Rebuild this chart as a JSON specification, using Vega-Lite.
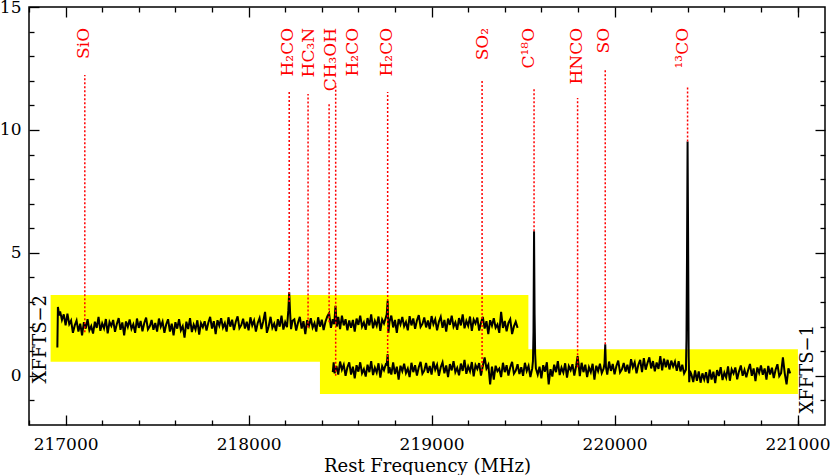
{
  "$schema": "https://vega.github.io/schema/vega-lite/v6.json",
  "width": 796,
  "height": 418,
  "autosize": "none",
  "padding": {"left": 29, "top": 7, "right": 5, "bottom": 50},
  "background": "white",
  "config": {
    "view": {"stroke": "black", "strokeWidth": 1.5},
    "axis": {"domain": false, "grid": false, "tickColor": "black", "tickWidth": 1.3, "labelFont": "DejaVu Serif", "labelFontSize": 17, "labelColor": "black", "titleFont": "DejaVu Serif", "titleFontSize": 18, "titleFontWeight": "normal", "titleColor": "black", "labelOverlap": false, "labelFlush": false, "zindex": 1}
  },
  "datasets": {
    "boxes": [
      {"x1": 216918, "x2": 219529, "y1": 0.57, "y2": 3.29},
      {"x1": 218390, "x2": 221002, "y1": -0.74, "y2": 1.08}
    ],
    "lines": [
      {"name": "SiO", "f": 217105, "b": 1.77, "top": 12.23, "lf": 217100},
      {"name": "H₂CO", "f": 218222, "b": 3.0, "top": 11.54, "lf": 218217},
      {"name": "HC₃N", "f": 218325, "b": 1.97, "top": 11.46, "lf": 218330},
      {"name": "CH₃OH", "f": 218440, "b": 2.18, "top": 11.09, "lf": 218449},
      {"name": "H₂CO", "f": 218476, "b": 0.0, "top": 11.9, "lf": 218572},
      {"name": "H₂CO", "f": 218760, "b": 0.6, "top": 11.54, "lf": 218758},
      {"name": "SO₂", "f": 219276, "b": 0.2, "top": 12.03, "lf": 219281},
      {"name": "C¹⁸O", "f": 219560, "b": 5.88, "top": 11.7, "lf": 219533},
      {"name": "HNCO", "f": 219798, "b": 0.35, "top": 11.3, "lf": 219797},
      {"name": "SO", "f": 219949, "b": 1.28, "top": 12.43, "lf": 219944},
      {"name": "¹³CO", "f": 220399, "b": 9.53, "top": 11.74, "lf": 220376}
    ],
    "bands": [
      {"name": "XFFTS−2", "f": 216863, "y": 3.29},
      {"name": "XFFTS−1", "f": 221059, "y": 2.07}
    ],
    "spec2": [
      {"f":216955,"t":1.15},{"f":216958,"t":2.80},{"f":216965,"t":2.45},{"f":216970,"t":2.62},{"f":216980,"t":2.27},{"f":216990,"t":2.50},
      {"f":217000,"t":2.05},{"f":217010,"t":2.53},{"f":217020,"t":2.10},{"f":217030,"t":2.25},{"f":217040,"t":1.75},{"f":217050,"t":2.05},
      {"f":217060,"t":2.25},{"f":217070,"t":1.80},{"f":217080,"t":2.12},{"f":217090,"t":1.65},{"f":217100,"t":2.18},{"f":217110,"t":1.92},
      {"f":217120,"t":2.30},{"f":217130,"t":1.85},{"f":217140,"t":2.02},{"f":217150,"t":1.72},{"f":217160,"t":2.20},{"f":217170,"t":1.95},
      {"f":217180,"t":2.40},{"f":217190,"t":1.83},{"f":217200,"t":2.13},{"f":217210,"t":1.93},{"f":217220,"t":2.31},{"f":217230,"t":1.73},
      {"f":217240,"t":2.19},{"f":217250,"t":2.03},{"f":217260,"t":2.27},{"f":217270,"t":1.79},{"f":217280,"t":2.11},{"f":217290,"t":2.35},
      {"f":217300,"t":1.87},{"f":217310,"t":2.17},{"f":217320,"t":1.65},{"f":217330,"t":2.21},{"f":217340,"t":1.99},{"f":217350,"t":2.29},
      {"f":217360,"t":1.91},{"f":217370,"t":2.09},{"f":217380,"t":1.75},{"f":217390,"t":2.33},{"f":217400,"t":1.95},{"f":217410,"t":2.23},
      {"f":217420,"t":1.81},{"f":217430,"t":2.15},{"f":217440,"t":2.37},{"f":217450,"t":1.89},{"f":217460,"t":2.01},{"f":217470,"t":2.27},
      {"f":217480,"t":1.87},{"f":217490,"t":2.15},{"f":217500,"t":1.80},{"f":217510,"t":2.33},{"f":217520,"t":2.00},{"f":217530,"t":2.20},
      {"f":217540,"t":1.75},{"f":217550,"t":2.10},{"f":217560,"t":2.30},{"f":217570,"t":1.80},{"f":217580,"t":2.12},{"f":217590,"t":1.65},
      {"f":217600,"t":2.18},{"f":217610,"t":1.92},{"f":217620,"t":2.30},{"f":217630,"t":1.85},{"f":217640,"t":2.02},{"f":217650,"t":1.55},
      {"f":217660,"t":2.20},{"f":217670,"t":1.90},{"f":217680,"t":2.35},{"f":217690,"t":1.78},{"f":217700,"t":2.08},{"f":217710,"t":1.88},
      {"f":217720,"t":2.26},{"f":217730,"t":1.68},{"f":217740,"t":2.14},{"f":217750,"t":1.98},{"f":217760,"t":2.22},{"f":217770,"t":1.84},
      {"f":217780,"t":2.16},{"f":217790,"t":2.40},{"f":217800,"t":1.92},{"f":217810,"t":2.22},{"f":217820,"t":1.70},{"f":217830,"t":2.26},
      {"f":217840,"t":2.04},{"f":217850,"t":2.34},{"f":217860,"t":1.96},{"f":217870,"t":2.14},{"f":217880,"t":1.80},{"f":217890,"t":2.38},
      {"f":217900,"t":2.00},{"f":217910,"t":2.28},{"f":217920,"t":1.86},{"f":217930,"t":2.20},{"f":217940,"t":2.42},{"f":217950,"t":1.94},
      {"f":217960,"t":2.06},{"f":217970,"t":2.32},{"f":217980,"t":1.92},{"f":217990,"t":2.20},{"f":218000,"t":1.85},{"f":218010,"t":2.38},
      {"f":218020,"t":2.05},{"f":218030,"t":2.25},{"f":218040,"t":1.80},{"f":218050,"t":2.15},{"f":218060,"t":2.35},{"f":218070,"t":1.90},
      {"f":218080,"t":2.22},{"f":218090,"t":2.60},{"f":218100,"t":1.75},{"f":218110,"t":2.02},{"f":218120,"t":2.40},{"f":218130,"t":1.95},
      {"f":218140,"t":2.12},{"f":218150,"t":1.82},{"f":218160,"t":2.30},{"f":218170,"t":2.00},{"f":218180,"t":2.45},{"f":218190,"t":1.88},
      {"f":218200,"t":2.18},{"f":218210,"t":1.98},{"f":218217,"t":2.65},{"f":218222,"t":3.40},{"f":218227,"t":2.55},{"f":218232,"t":1.90},
      {"f":218240,"t":2.24},{"f":218250,"t":2.30},{"f":218260,"t":1.84},{"f":218270,"t":2.16},{"f":218280,"t":2.40},{"f":218290,"t":1.92},
      {"f":218300,"t":2.22},{"f":218310,"t":1.70},{"f":218320,"t":2.26},{"f":218330,"t":2.04},{"f":218340,"t":2.34},{"f":218350,"t":1.96},
      {"f":218360,"t":2.14},{"f":218370,"t":1.80},{"f":218380,"t":2.38},{"f":218390,"t":2.00},{"f":218400,"t":2.28},{"f":218410,"t":1.86},
      {"f":218420,"t":2.20},{"f":218430,"t":2.42},{"f":218440,"t":2.55},{"f":218450,"t":1.95},{"f":218460,"t":2.30},{"f":218468,"t":2.10},
      {"f":218475,"t":2.85},{"f":218482,"t":2.00},{"f":218490,"t":2.40},{"f":218500,"t":1.90},{"f":218510,"t":2.45},{"f":218520,"t":2.05},
      {"f":218530,"t":2.30},{"f":218540,"t":1.85},{"f":218550,"t":2.25},{"f":218560,"t":1.95},{"f":218570,"t":2.27},{"f":218580,"t":1.80},
      {"f":218590,"t":2.33},{"f":218600,"t":2.07},{"f":218610,"t":2.45},{"f":218620,"t":2.00},{"f":218630,"t":2.17},{"f":218640,"t":1.87},
      {"f":218650,"t":2.35},{"f":218660,"t":2.05},{"f":218670,"t":2.50},{"f":218680,"t":1.93},{"f":218690,"t":2.23},{"f":218700,"t":2.03},
      {"f":218710,"t":2.41},{"f":218720,"t":1.83},{"f":218730,"t":2.29},{"f":218740,"t":2.13},{"f":218750,"t":2.37},{"f":218755,"t":2.50},
      {"f":218760,"t":3.05},{"f":218764,"t":1.75},{"f":218770,"t":2.20},{"f":218780,"t":2.45},{"f":218790,"t":1.97},{"f":218800,"t":2.27},
      {"f":218810,"t":1.75},{"f":218820,"t":2.31},{"f":218830,"t":2.09},{"f":218840,"t":2.39},{"f":218850,"t":2.01},{"f":218860,"t":2.19},
      {"f":218870,"t":1.85},{"f":218880,"t":2.43},{"f":218890,"t":2.05},{"f":218900,"t":2.33},{"f":218910,"t":1.91},{"f":218920,"t":2.25},
      {"f":218930,"t":2.47},{"f":218940,"t":1.99},{"f":218950,"t":2.11},{"f":218960,"t":2.37},{"f":218970,"t":1.97},{"f":218980,"t":2.25},
      {"f":218990,"t":1.90},{"f":219000,"t":2.43},{"f":219010,"t":2.10},{"f":219020,"t":2.30},{"f":219030,"t":1.85},{"f":219040,"t":2.20},
      {"f":219050,"t":2.40},{"f":219060,"t":1.95},{"f":219070,"t":2.27},{"f":219080,"t":1.80},{"f":219090,"t":2.33},{"f":219100,"t":2.07},
      {"f":219110,"t":2.45},{"f":219120,"t":2.00},{"f":219130,"t":2.17},{"f":219140,"t":1.87},{"f":219150,"t":2.35},{"f":219160,"t":2.05},
      {"f":219170,"t":2.50},{"f":219180,"t":1.93},{"f":219190,"t":2.23},{"f":219200,"t":2.03},{"f":219210,"t":2.41},{"f":219220,"t":1.83},
      {"f":219230,"t":2.29},{"f":219240,"t":2.13},{"f":219250,"t":2.37},{"f":219260,"t":1.84},{"f":219270,"t":2.16},{"f":219280,"t":2.40},
      {"f":219290,"t":1.92},{"f":219300,"t":2.22},{"f":219310,"t":1.70},{"f":219320,"t":2.26},{"f":219330,"t":2.04},{"f":219340,"t":2.34},
      {"f":219350,"t":1.96},{"f":219360,"t":2.09},{"f":219370,"t":1.75},{"f":219380,"t":2.60},{"f":219390,"t":1.95},{"f":219400,"t":2.23},
      {"f":219410,"t":1.81},{"f":219420,"t":2.15},{"f":219430,"t":2.30},{"f":219440,"t":1.70},{"f":219450,"t":2.01},{"f":219460,"t":2.20},
      {"f":219470,"t":1.95}
    ],
    "spec1": [
      {"f":218460,"t":0.15},{"f":218465,"t":0.55},{"f":218470,"t":0.10},{"f":218480,"t":0.40},{"f":218490,"t":0.05},{"f":218500,"t":0.58},
      {"f":218510,"t":0.25},{"f":218520,"t":0.45},{"f":218530,"t":0.00},{"f":218540,"t":0.35},{"f":218550,"t":0.55},{"f":218560,"t":0.05},
      {"f":218570,"t":0.37},{"f":218580,"t":-0.10},{"f":218590,"t":0.43},{"f":218600,"t":0.17},{"f":218610,"t":0.55},{"f":218620,"t":0.10},
      {"f":218630,"t":0.27},{"f":218640,"t":-0.03},{"f":218650,"t":0.45},{"f":218660,"t":0.15},{"f":218670,"t":0.60},{"f":218680,"t":0.03},
      {"f":218690,"t":0.33},{"f":218700,"t":0.13},{"f":218710,"t":0.51},{"f":218720,"t":-0.07},{"f":218730,"t":0.39},{"f":218740,"t":0.23},
      {"f":218750,"t":0.47},{"f":218755,"t":0.45},{"f":218760,"t":0.88},{"f":218765,"t":0.10},{"f":218770,"t":0.35},{"f":218780,"t":0.05},
      {"f":218790,"t":0.55},{"f":218800,"t":0.07},{"f":218810,"t":0.37},{"f":218820,"t":-0.15},{"f":218830,"t":0.41},{"f":218840,"t":0.19},
      {"f":218850,"t":0.49},{"f":218860,"t":0.11},{"f":218870,"t":0.29},{"f":218880,"t":-0.05},{"f":218890,"t":0.53},{"f":218900,"t":0.15},
      {"f":218910,"t":0.43},{"f":218920,"t":0.01},{"f":218930,"t":0.35},{"f":218940,"t":0.57},{"f":218950,"t":0.09},{"f":218960,"t":0.21},
      {"f":218970,"t":0.52},{"f":218980,"t":0.12},{"f":218990,"t":0.40},{"f":219000,"t":0.05},{"f":219010,"t":0.58},{"f":219020,"t":0.25},
      {"f":219030,"t":0.45},{"f":219040,"t":0.00},{"f":219050,"t":0.35},{"f":219060,"t":0.55},{"f":219070,"t":0.10},{"f":219080,"t":0.42},
      {"f":219090,"t":-0.05},{"f":219100,"t":0.48},{"f":219110,"t":0.22},{"f":219120,"t":0.60},{"f":219130,"t":0.15},{"f":219140,"t":0.32},
      {"f":219150,"t":0.02},{"f":219160,"t":0.50},{"f":219170,"t":0.20},{"f":219180,"t":0.65},{"f":219190,"t":0.08},{"f":219200,"t":0.38},
      {"f":219210,"t":0.18},{"f":219220,"t":0.56},{"f":219230,"t":-0.02},{"f":219240,"t":0.44},{"f":219250,"t":0.28},{"f":219260,"t":0.52},
      {"f":219270,"t":0.01},{"f":219280,"t":0.40},{"f":219290,"t":0.75},{"f":219300,"t":0.30},{"f":219310,"t":0.45},{"f":219320,"t":-0.35},
      {"f":219330,"t":0.37},{"f":219340,"t":-0.15},{"f":219350,"t":0.41},{"f":219360,"t":0.19},{"f":219370,"t":0.29},{"f":219380,"t":-0.05},
      {"f":219390,"t":0.53},{"f":219400,"t":0.15},{"f":219410,"t":0.43},{"f":219420,"t":0.01},{"f":219430,"t":0.35},{"f":219440,"t":0.57},
      {"f":219450,"t":0.09},{"f":219460,"t":0.21},{"f":219470,"t":0.47},{"f":219480,"t":0.07},{"f":219490,"t":0.35},{"f":219500,"t":0.00},
      {"f":219510,"t":0.53},{"f":219520,"t":0.20},{"f":219530,"t":0.40},{"f":219540,"t":-0.05},{"f":219550,"t":0.30},{"f":219554,"t":0.60},
      {"f":219557,"t":1.80},{"f":219560,"t":5.88},{"f":219563,"t":2.50},{"f":219566,"t":0.90},{"f":219570,"t":0.30},{"f":219580,"t":0.05},
      {"f":219590,"t":0.37},{"f":219600,"t":-0.10},{"f":219610,"t":0.43},{"f":219620,"t":0.17},{"f":219630,"t":0.55},{"f":219640,"t":-0.35},
      {"f":219650,"t":0.27},{"f":219660,"t":-0.03},{"f":219670,"t":0.45},{"f":219680,"t":0.15},{"f":219690,"t":0.60},{"f":219700,"t":0.03},
      {"f":219710,"t":0.33},{"f":219720,"t":0.13},{"f":219730,"t":0.51},{"f":219740,"t":-0.07},{"f":219750,"t":0.39},{"f":219760,"t":0.23},
      {"f":219770,"t":0.47},{"f":219780,"t":0.01},{"f":219790,"t":0.40},{"f":219798,"t":0.80},{"f":219805,"t":0.35},{"f":219810,"t":-0.01},
      {"f":219820,"t":0.53},{"f":219830,"t":0.15},{"f":219840,"t":0.45},{"f":219850,"t":-0.05},{"f":219860,"t":0.35},{"f":219870,"t":0.15},
      {"f":219880,"t":0.49},{"f":219890,"t":-0.15},{"f":219900,"t":0.41},{"f":219910,"t":0.19},{"f":219920,"t":0.49},{"f":219930,"t":0.11},
      {"f":219940,"t":0.29},{"f":219945,"t":0.50},{"f":219949,"t":1.28},{"f":219953,"t":0.35},{"f":219960,"t":0.05},{"f":219970,"t":0.58},
      {"f":219980,"t":0.20},{"f":219990,"t":0.48},{"f":220000,"t":0.06},{"f":220010,"t":0.40},{"f":220020,"t":0.62},{"f":220030,"t":0.14},
      {"f":220040,"t":0.26},{"f":220050,"t":0.52},{"f":220060,"t":0.17},{"f":220070,"t":0.45},{"f":220080,"t":0.10},{"f":220090,"t":0.68},
      {"f":220100,"t":0.35},{"f":220110,"t":0.55},{"f":220120,"t":0.10},{"f":220130,"t":0.45},{"f":220140,"t":0.65},{"f":220150,"t":0.15},
      {"f":220160,"t":0.72},{"f":220170,"t":0.25},{"f":220180,"t":0.52},{"f":220190,"t":0.75},{"f":220200,"t":0.30},{"f":220210,"t":0.60},
      {"f":220220,"t":0.18},{"f":220230,"t":0.54},{"f":220240,"t":0.28},{"f":220250,"t":0.80},{"f":220260,"t":0.22},{"f":220270,"t":0.70},
      {"f":220280,"t":0.35},{"f":220290,"t":0.65},{"f":220300,"t":0.26},{"f":220310,"t":0.62},{"f":220320,"t":0.38},{"f":220330,"t":0.58},
      {"f":220340,"t":0.20},{"f":220350,"t":0.60},{"f":220360,"t":0.18},{"f":220370,"t":0.45},{"f":220380,"t":0.10},{"f":220390,"t":0.25},
      {"f":220393,"t":1.50},{"f":220396,"t":5.00},{"f":220399,"t":9.53},{"f":220402,"t":5.50},{"f":220405,"t":0.80},{"f":220408,"t":-0.26},
      {"f":220412,"t":0.20},{"f":220420,"t":0.05},{"f":220430,"t":-0.25},{"f":220440,"t":0.22},{"f":220450,"t":-0.20},{"f":220460,"t":0.18},
      {"f":220470,"t":-0.28},{"f":220480,"t":0.10},{"f":220490,"t":-0.15},{"f":220500,"t":0.15},{"f":220510,"t":-0.30},{"f":220520,"t":0.25},
      {"f":220530,"t":-0.15},{"f":220540,"t":0.17},{"f":220550,"t":-0.30},{"f":220560,"t":0.23},{"f":220570,"t":-0.01},{"f":220580,"t":0.35},
      {"f":220590,"t":-0.17},{"f":220600,"t":0.13},{"f":220610,"t":-0.07},{"f":220620,"t":0.38},{"f":220630,"t":-0.20},{"f":220640,"t":0.26},
      {"f":220650,"t":0.10},{"f":220660,"t":0.34},{"f":220670,"t":-0.14},{"f":220680,"t":0.18},{"f":220690,"t":0.42},{"f":220700,"t":0.00},
      {"f":220710,"t":0.24},{"f":220720,"t":-0.06},{"f":220730,"t":0.24},{"f":220740,"t":0.48},{"f":220750,"t":0.00},{"f":220760,"t":0.30},
      {"f":220770,"t":-0.22},{"f":220780,"t":0.34},{"f":220790,"t":0.12},{"f":220800,"t":0.42},{"f":220810,"t":0.04},{"f":220820,"t":0.30},
      {"f":220830,"t":-0.15},{"f":220840,"t":0.40},{"f":220850,"t":0.05},{"f":220860,"t":0.33},{"f":220870,"t":-0.09},{"f":220880,"t":0.25},
      {"f":220890,"t":0.47},{"f":220900,"t":-0.01},{"f":220910,"t":0.11},{"f":220920,"t":0.75},{"f":220930,"t":0.10},{"f":220940,"t":-0.35},
      {"f":220950,"t":0.30},{"f":220960,"t":0.10}
    ]
  },
  "resolve": {"axis": {"x": "independent", "y": "independent"}},
  "layer": [
    {
      "data": {"name": "boxes"},
      "mark": {"type": "rect", "color": "#ffff00"},
      "encoding": {
        "x": {"field": "x1", "type": "quantitative", "scale": {"domain": [216800, 221150], "nice": false, "zero": false},
              "axis": {"orient": "bottom", "values": [217000, 218000, 219000, 220000, 221000], "format": "d", "tickSize": -10, "labelPadding": 21, "title": "Rest Frequency (MHz)", "titlePadding": 5}},
        "x2": {"field": "x2"},
        "y": {"field": "y1", "type": "quantitative", "scale": {"domain": [-2, 15], "nice": false, "zero": false},
              "axis": {"orient": "left", "values": [0, 5, 10, 15], "tickSize": -10, "labelPadding": 18, "title": null}},
        "y2": {"field": "y2"}
      }
    },
    {
      "data": {"name": "spec2"},
      "mark": {"type": "line", "color": "black", "strokeWidth": 2},
      "encoding": {
        "x": {"field": "f", "type": "quantitative", "scale": {"domain": [216800, 221150], "nice": false, "zero": false},
              "axis": {"orient": "bottom", "values": [216800, 217200, 217400, 217600, 217800, 218200, 218400, 218600, 218800, 219200, 219400, 219600, 219800, 220200, 220400, 220600, 220800, 221000], "tickSize": -5, "labels": false, "title": null}},
        "y": {"field": "t", "type": "quantitative", "scale": {"domain": [-2, 15], "nice": false, "zero": false},
              "axis": {"orient": "left", "values": [-1, 1, 2, 3, 4, 6, 7, 8, 9, 11, 12, 13, 14], "tickSize": -5, "labels": false, "title": null}}
      }
    },
    {
      "data": {"name": "spec1"},
      "mark": {"type": "line", "color": "black", "strokeWidth": 2},
      "encoding": {
        "x": {"field": "f", "type": "quantitative", "scale": {"domain": [216800, 221150], "nice": false, "zero": false},
              "axis": {"orient": "top", "values": [217000, 218000, 219000, 220000, 221000], "tickSize": -10, "labels": false, "title": null}},
        "y": {"field": "t", "type": "quantitative", "scale": {"domain": [-2, 15], "nice": false, "zero": false},
              "axis": {"orient": "right", "values": [0, 5, 10], "tickSize": -10, "labels": false, "title": null}}
      }
    },
    {
      "data": {"name": "lines"},
      "mark": {"type": "rule", "color": "#ff0000", "strokeWidth": 1.5, "strokeDash": [2, 2]},
      "encoding": {
        "x": {"field": "f", "type": "quantitative", "scale": {"domain": [216800, 221150], "nice": false, "zero": false},
              "axis": {"orient": "top", "values": [216800, 217200, 217400, 217600, 217800, 218200, 218400, 218600, 218800, 219200, 219400, 219600, 219800, 220200, 220400, 220600, 220800, 221000], "tickSize": -5, "labels": false, "title": null}},
        "y": {"field": "b", "type": "quantitative", "scale": {"domain": [-2, 15], "nice": false, "zero": false},
              "axis": {"orient": "right", "values": [-1, 1, 2, 3, 4, 6, 7, 8, 9, 11, 12, 13, 14], "tickSize": -5, "labels": false, "title": null}},
        "y2": {"field": "top"}
      }
    },
    {
      "data": {"name": "lines"},
      "mark": {"type": "text", "color": "#ff0000", "font": "DejaVu Serif", "fontSize": 17, "angle": 270, "align": "right", "baseline": "middle"},
      "encoding": {
        "x": {"field": "lf", "type": "quantitative", "axis": null},
        "y": {"datum": 14.15, "type": "quantitative", "axis": null},
        "text": {"field": "name"}
      }
    },
    {
      "data": {"name": "bands"},
      "mark": {"type": "text", "color": "black", "font": "DejaVu Serif", "fontSize": 18, "angle": 270, "align": "right", "baseline": "middle"},
      "encoding": {
        "x": {"field": "f", "type": "quantitative", "axis": null},
        "y": {"field": "y", "type": "quantitative", "axis": null},
        "text": {"field": "name"}
      }
    }
  ]
}
